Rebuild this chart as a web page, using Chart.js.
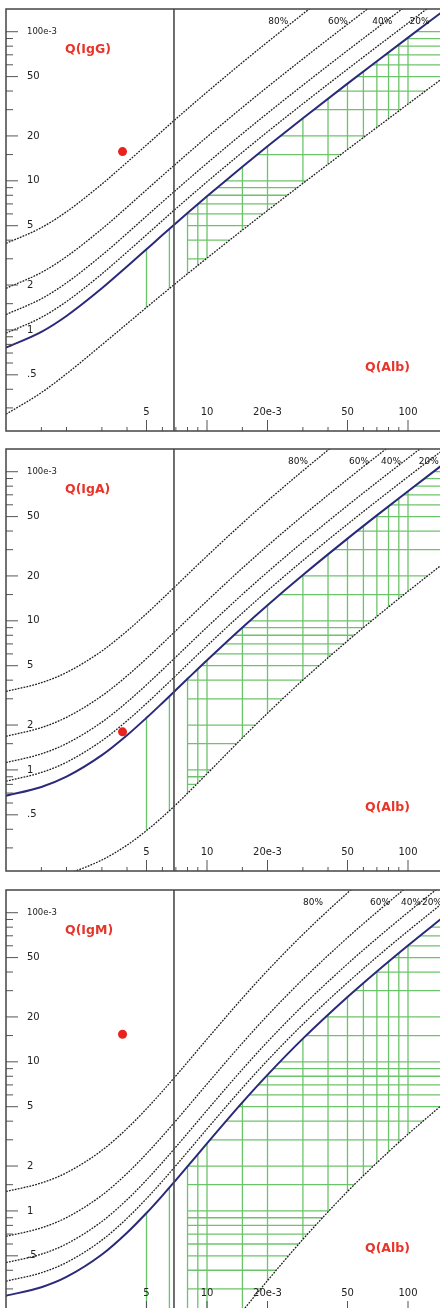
<!DOCTYPE html>
<html>
<head>
<meta charset="utf-8">
<script src="https://cdn.jsdelivr.net/npm/chart.js@4.4.0/dist/chart.umd.min.js"></script>
<style>
  body { margin: 0; background: #fff; width: 440px; height: 1308px; overflow: hidden; position: relative; }
  .panel { position: absolute; left: 0; }
</style>
</head>
<body>
<canvas id="chartIgG" class="panel" width="450" height="440" style="top:0px"></canvas>
<canvas id="chartIgA" class="panel" width="450" height="440" style="top:440px"></canvas>
<canvas id="chartIgM" class="panel" width="450" height="440" style="top:881px"></canvas>
<script>
// Q(Alb) sample points, x 1e-3
const qAlb = [1, 1.5, 2, 3, 4, 5, 6, 7, 8, 10, 15, 20, 30, 50, 70, 100, 150];

// IgG: upper limit, lower limit, 20/40/60/80% intrathecal lines
const limG = [0.761, 0.971, 1.241, 1.902, 2.662, 3.478, 4.327, 5.197, 6.081, 7.875, 12.43, 17.04, 26.29, 44.86, 63.44, 91.33, 137.8];
const lowG = [0.272, 0.380, 0.508, 0.795, 1.100, 1.415, 1.734, 2.057, 2.381, 3.033, 4.672, 6.317, 9.611, 16.21, 22.80, 32.70, 49.20];
const g20 = [0.951, 1.214, 1.551, 2.377, 3.328, 4.348, 5.409, 6.496, 7.601, 9.844, 15.54, 21.30, 32.87, 56.07, 79.30, 114.2, 172.3];
const g40 = [1.268, 1.619, 2.068, 3.170, 4.437, 5.797, 7.212, 8.662, 10.13, 13.12, 20.72, 28.40, 43.82, 74.76, 105.7, 152.2, 229.7];
const g60 = [1.902, 2.428, 3.102, 4.755, 6.655, 8.695, 10.82, 12.99, 15.20, 19.69, 31.09, 42.60, 65.73, 112.1, 158.6, 228.3, 344.6];
const g80 = [3.803, 4.856, 6.205, 9.510, 13.31, 17.39, 21.64, 25.99, 30.40, 39.37, 62.17, 85.19, 131.5, 224.3, 317.2, 456.6, 689.1];

// IgA
const limA = [0.672, 0.769, 0.901, 1.256, 1.709, 2.235, 2.815, 3.434, 4.082, 5.440, 9.026, 12.74, 20.29, 35.58, 50.93, 73.99, 112.5];
const lowA = [0.172, 0.185, 0.201, 0.249, 0.313, 0.392, 0.483, 0.585, 0.697, 0.942, 1.640, 2.401, 4.006, 7.325, 10.69, 15.76, 24.24];
const a20 = [0.840, 0.962, 1.126, 1.570, 2.136, 2.793, 3.518, 4.292, 5.103, 6.800, 11.28, 15.92, 25.37, 44.47, 63.66, 92.49, 140.6];
const a40 = [1.120, 1.282, 1.502, 2.093, 2.848, 3.725, 4.691, 5.723, 6.804, 9.066, 15.04, 21.23, 33.82, 59.29, 84.88, 123.3, 187.4];
const a60 = [1.681, 1.923, 2.253, 3.140, 4.272, 5.587, 7.036, 8.584, 10.21, 13.60, 22.57, 31.84, 50.73, 88.94, 127.3, 185.0, 281.1];
const a80 = [3.361, 3.846, 4.505, 6.279, 8.543, 11.17, 14.07, 17.17, 20.41, 27.20, 45.13, 63.68, 101.5, 177.9, 254.6, 369.9, 562.3];

// IgM
const limM = [0.270, 0.308, 0.361, 0.510, 0.714, 0.968, 1.268, 1.610, 1.988, 2.838, 5.345, 8.178, 14.30, 27.19, 40.37, 60.30, 93.67];
const lowM = [0.022, 0.023, 0.025, 0.030, 0.036, 0.044, 0.055, 0.066, 0.080, 0.111, 0.213, 0.341, 0.645, 1.350, 2.104, 3.267, 5.239];
const m20 = [0.338, 0.385, 0.451, 0.637, 0.892, 1.210, 1.585, 2.013, 2.485, 3.547, 6.681, 10.22, 17.87, 33.99, 50.46, 75.38, 117.1];
const m40 = [0.450, 0.513, 0.601, 0.850, 1.189, 1.613, 2.114, 2.683, 3.314, 4.730, 8.908, 13.63, 23.83, 45.32, 67.28, 100.5, 156.1];
const m60 = [0.675, 0.770, 0.902, 1.274, 1.784, 2.420, 3.171, 4.025, 4.971, 7.094, 13.36, 20.45, 35.75, 67.99, 100.9, 150.8, 234.2];
const m80 = [1.350, 1.540, 1.804, 2.549, 3.568, 4.840, 6.342, 8.050, 9.942, 14.19, 26.72, 40.89, 71.49, 136.0, 201.9, 301.5, 468.3];

// patient values
const qAlbLimit = 6.85;
const patientAlb = [3.8, 3.8, 3.8];
const patientIg = [15.7, 1.8, 15.3];

// green reference grid
const gridX = [5, 6.5, 8, 9, 10, 15, 20, 30, 40, 50, 60, 70, 80, 90, 100];
const gridY = [0.3, 0.4, 0.5, 0.6, 0.7, 0.8, 0.9, 1, 1.5, 2, 3, 4, 5, 6, 7, 8, 9, 10, 15, 20, 30, 40, 50, 60, 70, 80, 90, 100];
const gridHFrom = 8;

// axes
const xMajor = [5, 10, 20, 50, 100];
const xMajorLabels = ['5', '10', '20e-3', '50', '100'];
const xMinor = [1.5, 2, 3, 4, 6, 7, 8, 9, 15, 30, 40, 60, 70, 80, 90, 150];
const yMajor = [100, 50, 20, 10, 5, 2, 1, 0.5];
const yMajorLabels = ['100e-3', '50', '20', '10', '5', '2', '1', '.5'];
const yMinor = [90, 80, 70, 60, 40, 30, 15, 9, 8, 7, 6, 4, 3, 1.5, 0.9, 0.8, 0.7, 0.6, 0.4, 0.3];

// percentage labels and where they sit along Q(Alb)
const pctLabels = ['80%', '60%', '40%', '20%'];
const pctPosG = [22.6, 44.8, 74.5, 114];
const pctPosA = [28.4, 57.0, 82.3, 127];
const pctPosM = [33.7, 72.6, 103.5, 131.5];

function pts(ys) {
    return qAlb.map((x, i) => ({ x: x, y: ys[i] }));
}

function line(ctx, x1, y1, x2, y2) {
    ctx.beginPath();
    ctx.moveTo(x1, y1);
    ctx.lineTo(x2, y2);
    ctx.stroke();
}

const reiberPlugin = {
    id: 'reiber',
    // green grid between lower and upper limit
    beforeDatasetsDraw(chart) {
        const { ctx, chartArea: a, scales: { x, y } } = chart;
        const lim = chart.getDatasetMeta(0).data;
        const low = chart.getDatasetMeta(1).data;
        ctx.save();
        ctx.beginPath();
        ctx.rect(a.left, a.top, a.width, a.height);
        ctx.clip();
        ctx.beginPath();
        lim.forEach((p, i) => i ? ctx.lineTo(p.x, p.y) : ctx.moveTo(p.x, p.y));
        for (let i = low.length - 1; i >= 0; i--) ctx.lineTo(low[i].x, low[i].y);
        ctx.closePath();
        ctx.clip();
        ctx.strokeStyle = '#6cc46a';
        ctx.lineWidth = 1.3;
        gridX.forEach(v => {
            const px = x.getPixelForValue(v);
            line(ctx, px, a.top, px, a.bottom);
        });
        const hx = x.getPixelForValue(gridHFrom);
        gridY.forEach(v => {
            const py = y.getPixelForValue(v);
            line(ctx, hx, py, a.right, py);
        });
        ctx.restore();
    },
    // ticks, labels, frame
    afterDraw(chart, args, opts) {
        const { ctx, chartArea: a, scales: { x, y } } = chart;
        ctx.save();
        ctx.strokeStyle = '#555';
        ctx.lineWidth = 1;
        yMajor.forEach(v => { const py = y.getPixelForValue(v); line(ctx, a.left, py, a.left + 12, py); });
        yMinor.forEach(v => { const py = y.getPixelForValue(v); line(ctx, a.left, py, a.left + 7, py); });
        xMajor.forEach(v => { const px = x.getPixelForValue(v); line(ctx, px, a.bottom, px, a.bottom - 11); });
        xMinor.forEach(v => { const px = x.getPixelForValue(v); line(ctx, px, a.bottom, px, a.bottom - 4); });

        ctx.fillStyle = '#222';
        ctx.textBaseline = 'middle';
        ctx.textAlign = 'left';
        yMajor.forEach((v, i) => {
            ctx.font = yMajorLabels[i].indexOf('e') >= 0 ? '8.5px "DejaVu Sans"' : '10px "DejaVu Sans"';
            ctx.fillText(yMajorLabels[i], a.left + 21, y.getPixelForValue(v));
        });
        ctx.textAlign = 'center';
        ctx.font = '10px "DejaVu Sans"';
        xMajor.forEach((v, i) => ctx.fillText(xMajorLabels[i], x.getPixelForValue(v), a.bottom - 19));

        ctx.fillStyle = '#111';
        ctx.font = '9px "DejaVu Sans"';
        opts.pctPos.forEach((v, i) => ctx.fillText(pctLabels[i], x.getPixelForValue(v), a.top + 13));

        ctx.fillStyle = '#e8352a';
        ctx.font = 'bold 12.5px "DejaVu Sans"';
        ctx.textAlign = 'left';
        ctx.fillText(opts.title, a.left + 59, a.top + 41);
        ctx.fillText('Q(Alb)', a.left + 359, a.top + 359);

        ctx.strokeStyle = '#444';
        ctx.lineWidth = 1.5;
        ctx.strokeRect(a.left, a.top, a.width, a.height);
        ctx.restore();
    }
};

function dashed(ys) {
    return {
        data: pts(ys),
        borderColor: '#1e1e1e',
        borderWidth: 1.3,
        borderDash: [1.8, 1.2],
        pointRadius: 0,
        cubicInterpolationMode: 'monotone',
        order: 3
    };
}

function makePanel(id, title, lim, low, p20, p40, p60, p80, pctPos, idx) {
    new Chart(document.getElementById(id), {
        type: 'line',
        data: {
            datasets: [
                { data: pts(lim), borderColor: '#2b2a7a', borderWidth: 2, pointRadius: 0, cubicInterpolationMode: 'monotone', order: 2 },
                dashed(low), dashed(p20), dashed(p40), dashed(p60), dashed(p80),
                { data: [{ x: qAlbLimit, y: 0.1 }, { x: qAlbLimit, y: 200 }], borderColor: '#4a4a4a', borderWidth: 1.6, pointRadius: 0, order: 1 },
                { data: [{ x: patientAlb[idx], y: patientIg[idx] }], showLine: false, pointRadius: 4.5, pointBackgroundColor: '#e8221c', pointBorderWidth: 0, order: 0 }
            ]
        },
        options: {
            responsive: false,
            animation: false,
            events: [],
            layout: { padding: { left: 6, top: 9, right: 6.6, bottom: 9 } },
            scales: {
                x: { type: 'logarithmic', min: 1, max: 150, display: false },
                y: { type: 'logarithmic', min: 0.21, max: 142, display: false }
            },
            plugins: {
                legend: { display: false },
                tooltip: { enabled: false },
                reiber: { title: title, pctPos: pctPos }
            }
        },
        plugins: [reiberPlugin]
    });
}

makePanel('chartIgG', 'Q(IgG)', limG, lowG, g20, g40, g60, g80, pctPosG, 0);
makePanel('chartIgA', 'Q(IgA)', limA, lowA, a20, a40, a60, a80, pctPosA, 1);
makePanel('chartIgM', 'Q(IgM)', limM, lowM, m20, m40, m60, m80, pctPosM, 2);
</script>
</body>
</html>
